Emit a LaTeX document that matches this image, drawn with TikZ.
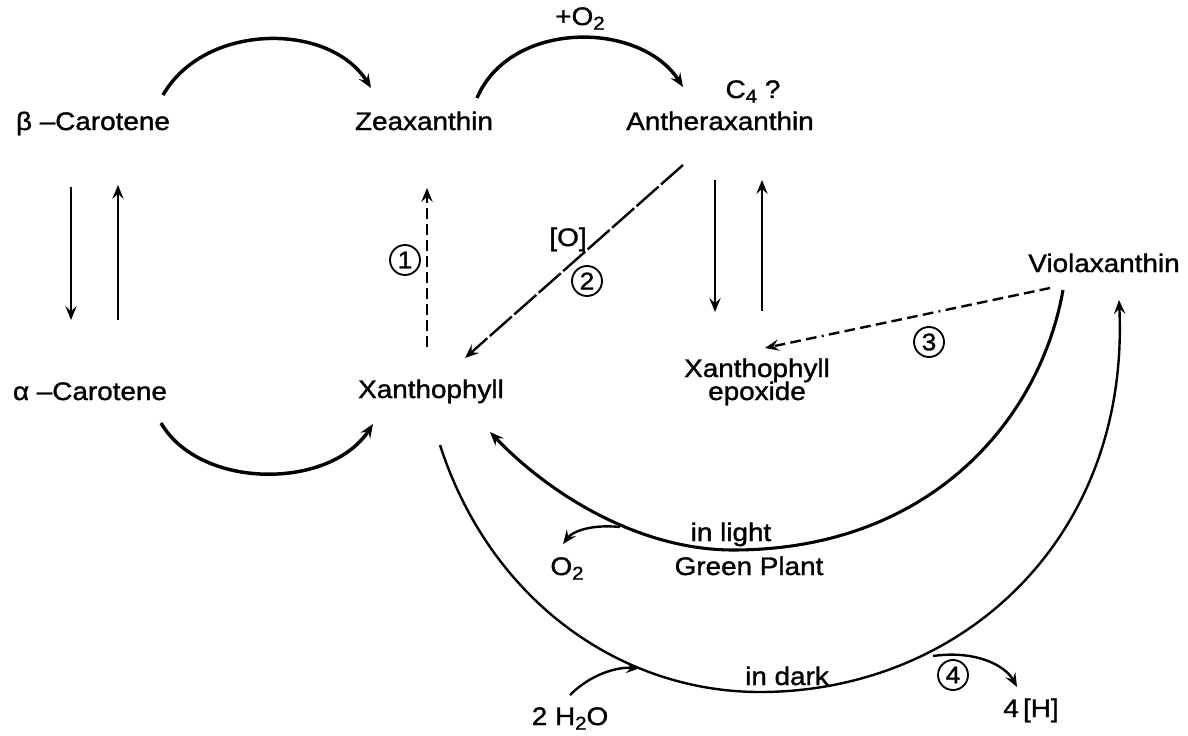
\documentclass[tikz,border=0pt]{standalone}
\usepackage{fontspec}
\setmainfont{Liberation Sans}[FakeStretch=1.1,FakeBold=1.3]
\usetikzlibrary{arrows.meta}
\newcommand{\lsub}[1]{\raisebox{-0.35ex}{\fontsize{14}{14}\selectfont #1}}
\begin{document}
\begin{tikzpicture}[x=0.75pt,y=-0.75pt,
  lbl/.style={anchor=base, inner sep=0pt, font=\fontsize{19}{22}\selectfont},
  num/.style={circle, draw, line width=1.4pt, minimum size=22.5pt, inner sep=0pt, font=\fontsize{18}{18}\selectfont},
  arr/.style={-{Stealth[length=10.5pt,width=8.5pt,inset=4pt]}, line width=1.8pt},
  bold/.style={arr, line width=2.6pt},
  dsh/.style={dash pattern=on 8pt off 4pt},
]
\fill[white] (0,0) rectangle (1188,735);
\useasboundingbox (0,0) rectangle (1188,735);

% labels
\node[lbl] (bcar) at (93,130) {β –Carotene};
\node[lbl] (zea) at (424,130) {Zeaxanthin};
\node[lbl] (anth) at (720,130) {Antheraxanthin};
\node[lbl] (c4) at (753,98) {C\lsub{4} ?};
\node[lbl] (o2top) at (580,25) {+O\lsub{2}};
\node[lbl] (viol) at (1104,272) {Violaxanthin};
\node[lbl] (acar) at (90,400) {α –Carotene};
\node[lbl] (xan) at (431,398) {Xanthophyll};
\node[lbl] (xep) at (757,377) {Xanthophyll};
\node[lbl] (xep2) at (757,400) {epoxide};
\node[lbl] (ox) at (568,246) {[O]};
\node[lbl] (light) at (731,541) {in light};
\node[lbl] (green) at (749,575) {Green Plant};
\node[lbl] (o2) at (567,575) {O\lsub{2}};
\node[lbl] (dark) at (787,685) {in dark};
\node[lbl] (h2o) at (570,725) {2 H\lsub{2}O};
\node[lbl] (h4) at (1031,717) {4\,[H]};

% circled numbers
\node[num] (n1) at (405,260) {1};
\node[num] (n2) at (587,281) {2};
\node[num] (n3) at (929,342) {3};
\node[num] (n4) at (953,675) {4};

% connector end points
\coordinate (b1) at (163,95);  \coordinate (z0) at (371,88);
\coordinate (z1) at (477,98);  \coordinate (a0) at (683,87);
\coordinate (ac1) at (161,423); \coordinate (x0) at (373,424);

% top arcs
\draw[bold] (b1) .. controls (205,22) and (330,22) .. (z0);
\draw[bold] (z1) .. controls (510,20) and (640,20) .. (a0);
\draw[bold] (ac1) .. controls (200,490) and (330,490) .. (x0);

% vertical arrows beta/alpha
\draw[arr, line width=2.2pt] (71,187) -- (71,320);
\draw[arr, line width=2.2pt] (118,320) -- (118,185);

% dashed 1
\draw[arr, dsh] (427,347) -- (427,188);
% 2
\draw[arr, dash pattern=on 22pt off 2.5pt] (683,165) -- (465,358);
% antheraxanthin <-> epoxide
\draw[arr] (715,180) -- (715,312);
\draw[arr] (762,311) -- (762,180);
% 3
\draw[arr, dash pattern=on 8pt off 4pt on 8pt off 4pt on 8pt off 4pt on 8pt off 4pt on 8pt off 4pt on 8pt off 4pt on 8pt off 4pt on 1.5pt off 4pt] (1050,288) -- (765,348);

% in light arc
\coordinate (lv) at (1063,290);
\coordinate (lm) at (733,550);
\coordinate (lx) at (490,432);
\draw[line width=2.3pt] (lv) .. controls (1040,420) and (930,550) .. (lm);
\draw[arr, line width=2.3pt] (lm) .. controls (640,550) and (550,495) .. (lx);
% O2 branch
\coordinate (lb) at (620,527);
\draw[arr] (lb) .. controls (590,524) and (572,532) .. (563,544);

% in dark arc
\coordinate (dx) at (440,445);
\coordinate (dm) at (760,692);
\coordinate (dv) at (1119,300);
\draw[line width=1.8pt] (dx) .. controls (490,600) and (620,692) .. (dm);
\draw[arr, line width=1.8pt] (dm) .. controls (960,692) and (1130,540) .. (dv);
% water in
\coordinate (wb) at (640,668);
\draw[arr] (570,695) .. controls (590,675) and (615,667) .. (wb);
% 4[H] out
\coordinate (hb) at (933,656);
\draw[arr] (hb) .. controls (975,650) and (1005,665) .. (1017,687);
\end{tikzpicture}
\end{document}
